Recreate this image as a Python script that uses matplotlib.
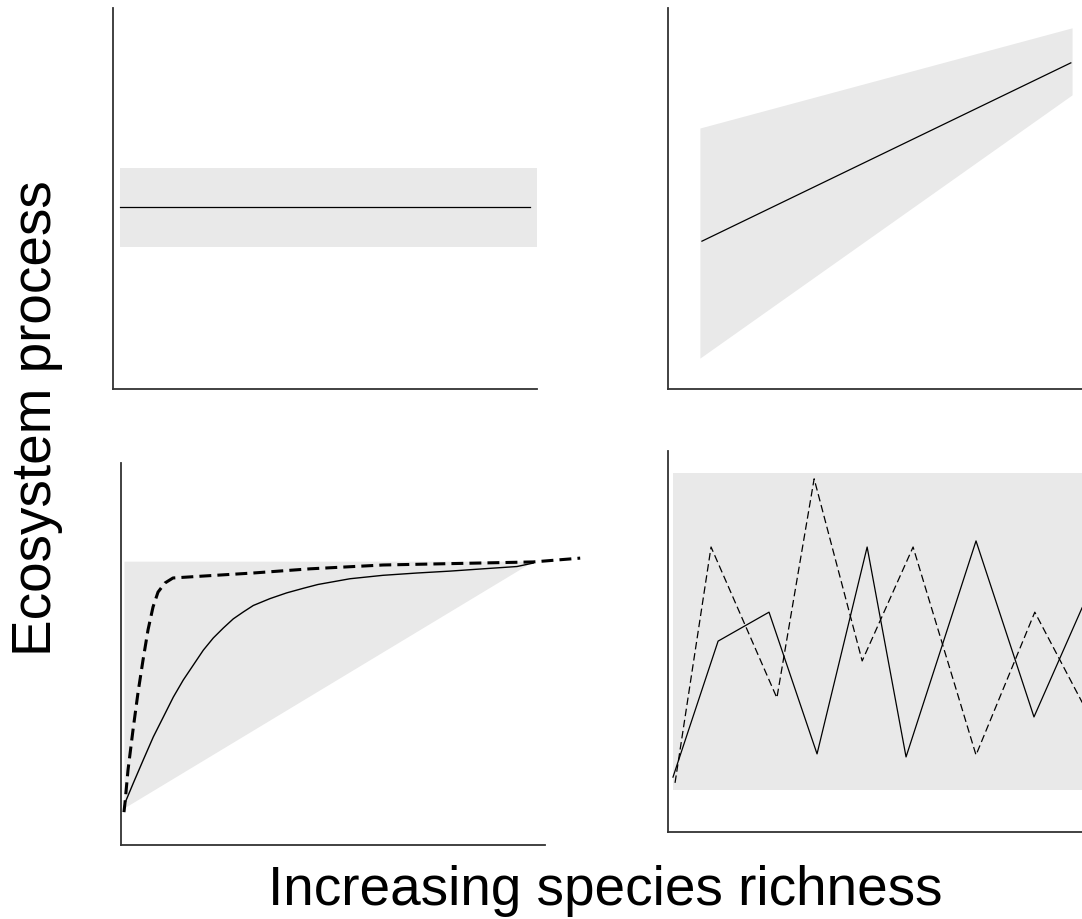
import matplotlib
matplotlib.use("Agg")
import matplotlib.pyplot as plt

plt.rcParams['font.family'] = ['Liberation Sans', 'DejaVu Sans']

W, H = 1082, 919
BAND = '#e9e9e9'
SPINE = '#333333'

# Panel A: no effect of richness (flat mean with constant band)
a_band_x = [0.17, 10.0]
a_band_lo = [3.73, 3.73]
a_band_hi = [5.80, 5.80]
a_line_x = [0.17, 9.83]
a_line_y = [4.78, 4.78]

# Panel B: linear increase with narrowing band
b_band_x = [0.77, 9.76]
b_band_lo = [0.81, 7.72]
b_band_hi = [6.85, 9.48]
b_line_x = [0.82, 9.73]
b_line_y = [3.88, 8.56]

# Panel C: saturating responses
c_band_x = [0.07, 9.72]
c_band_lo = [0.97, 7.43]
c_band_hi = [7.43, 7.43]
c_solid_x = [0.07, 0.094, 0.29, 0.526, 0.762, 0.998, 1.233, 1.469, 1.705,
             1.941, 2.177, 2.413, 2.648, 2.884, 3.120, 3.514, 3.908, 4.300,
             4.646, 5.40, 6.18, 6.98, 7.76, 8.54, 9.34, 9.72]
c_solid_y = [0.92, 1.10, 1.62, 2.23, 2.83, 3.35, 3.87, 4.32, 4.71,
             5.10, 5.42, 5.68, 5.92, 6.10, 6.27, 6.45, 6.60, 6.72,
             6.82, 6.97, 7.06, 7.12, 7.17, 7.23, 7.29, 7.38]
c_dash_x = [0.07, 0.094, 0.165, 0.283, 0.40, 0.519, 0.637, 0.755, 0.873,
            1.038, 1.226, 1.934, 3.113, 4.46, 6.18, 9.72, 10.83]
c_dash_y = [0.86, 1.10, 1.96, 3.01, 3.98, 4.84, 5.63, 6.23, 6.62,
            6.86, 6.99, 7.04, 7.12, 7.23, 7.33, 7.41, 7.51]

# Panel D: idiosyncratic responses
d_band_x = [0.12, 10.2]
d_band_lo = [1.10, 1.10]
d_band_hi = [9.42, 9.42]
d_solid_x = [0.12, 1.21, 2.44, 3.60, 4.81, 5.75, 7.44, 8.84, 10.0, 10.5]
d_solid_y = [1.44, 5.01, 5.77, 2.05, 7.48, 1.97, 7.64, 3.02, 5.88, 6.8]
d_dash_x = [0.17, 1.04, 2.63, 3.53, 4.69, 5.92, 7.44, 8.86, 10.0, 10.5]
d_dash_y = [1.29, 7.48, 3.52, 9.27, 4.49, 7.48, 2.02, 5.77, 3.41, 2.7]

x_label = 'Increasing species richness'
y_label = 'Ecosystem process'

fig = plt.figure(figsize=(W / 100, H / 100), dpi=100)


def make_axes(left, top, right, bottom):
    ax = fig.add_axes([left / W, 1 - bottom / H, (right - left) / W, (bottom - top) / H])
    ax.set_xlim(0, 10)
    ax.set_ylim(0, 10)
    for s in ('top', 'right'):
        ax.spines[s].set_visible(False)
    for s in ('left', 'bottom'):
        ax.spines[s].set_color(SPINE)
        ax.spines[s].set_linewidth(1.3)
    ax.set_xticks([])
    ax.set_yticks([])
    ax.patch.set_alpha(0)
    return ax


axA = make_axes(113, 8, 537, 389)
axA.fill_between(a_band_x, a_band_lo, a_band_hi, color=BAND, lw=0)
axA.plot(a_line_x, a_line_y, color='black', lw=0.9)

axB = make_axes(668, 8, 1082, 389)
axB.fill_between(b_band_x, b_band_lo, b_band_hi, color=BAND, lw=0)
axB.plot(b_line_x, b_line_y, color='black', lw=0.9)

axC = make_axes(121, 463, 545, 845)
axC.fill_between(c_band_x, c_band_lo, c_band_hi, color=BAND, lw=0)
axC.plot(c_solid_x, c_solid_y, color='black', lw=1.0, solid_joinstyle='round')
axC.plot(c_dash_x, c_dash_y, color='black', lw=2.2, linestyle=(0, (3.9, 2.0)),
         clip_on=False)

axD = make_axes(668, 451, 1082, 832)
axD.fill_between(d_band_x, d_band_lo, d_band_hi, color=BAND, lw=0)
axD.plot(d_solid_x, d_solid_y, color='black', lw=0.9)
axD.plot(d_dash_x, d_dash_y, color='black', lw=0.9, linestyle=(0, (6, 3)))

fig.text(605 / W, 1 - 905 / H, x_label, ha='center', va='baseline', fontsize=39.5)
fig.text(37 / W, 1 - 418 / H, y_label, ha='center', va='center', rotation=90,
         fontsize=39.5)

fig.savefig('out.png', dpi=100)
